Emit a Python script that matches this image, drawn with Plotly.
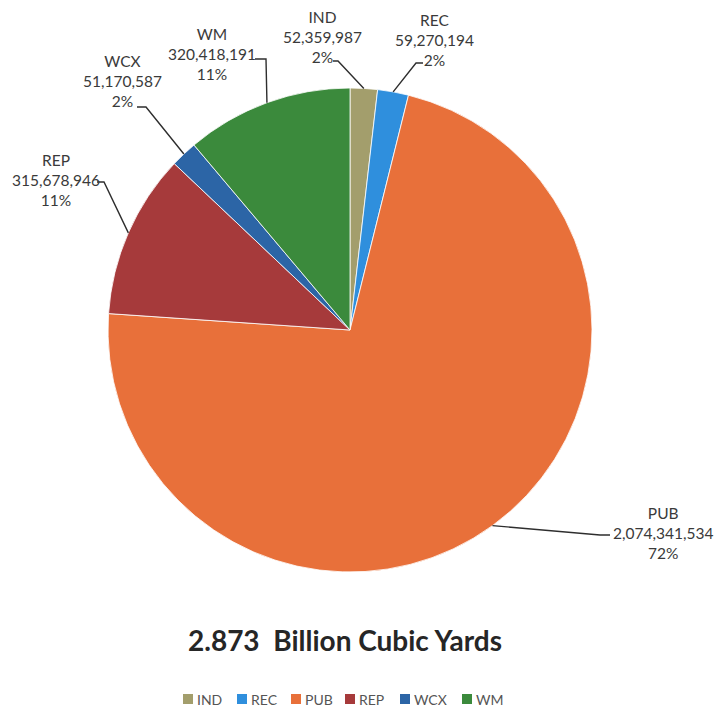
import math
import plotly.graph_objects as go

# Volumes by hauler (cubic yards)
categories = ["IND", "REC", "PUB", "REP", "WCX", "WM"]
volumes = [52359987, 59270194, 2074341534, 315678946, 51170587, 320418191]
colors = ["#a39e6c", "#2f8fdd", "#e8703a", "#a63a3b", "#2c65a6", "#3b8a3c"]
title_text = "2.873  Billion Cubic Yards"

W, H = 717, 715
CX, CY, R = 350, 330, 242  # pie centre and radius in px

# label centre (px) and leader elbow: (start point, elbow point)
label_pos = {
    "IND": (322, 37), "REC": (434, 40), "PUB": (663, 533),
    "REP": (56, 180), "WCX": (122, 81), "WM": (212, 54),
}
leader_pts = {
    "IND": [(333, 61), (338, 61)],
    "REC": [(423, 63), (416, 63)],
    "PUB": [(610, 535), (600, 535)],
    "REP": [(97, 182), (104, 182)],
    "WCX": [(137, 107), (146, 107)],
    "WM": [(255, 59), (266, 59)],
}
legend_x = [188, 242, 296, 350, 405, 467]
legend_y = 699


def px(x, y):
    return x / W, 1 - y / H


total = sum(volumes)

fig = go.Figure(go.Pie(
    labels=categories,
    values=volumes,
    sort=False,
    direction="clockwise",
    rotation=0,
    marker=dict(colors=colors, line=dict(color="#ffffff", width=0.8)),
    textinfo="none",
    hoverinfo="label+value+percent",
    showlegend=False,
    domain=dict(x=[(CX - R) / W, (CX + R) / W], y=[1 - (CY + R) / H, 1 - (CY - R) / H]),
))

annotations = []
shapes = []
label_font = dict(family="Lato, Open Sans, sans-serif", size=15.5, color="#3a3a3a")

cum = 0.0
for name, val in zip(categories, volumes):
    mid = (cum + val / 2) / total * 2 * math.pi
    cum += val
    ex = CX + R * math.sin(mid)
    ey = CY - R * math.cos(mid)
    pct = round(val / total * 100)
    lx, ly = label_pos[name]
    ax, ay = px(lx, ly)
    annotations.append(dict(
        x=ax, y=ay, xref="paper", yref="paper", showarrow=False,
        text=f"{name}<br>{val:,}<br>{pct}%", align="center",
        xanchor="center", yanchor="middle", font=label_font,
    ))
    pts = leader_pts[name] + [(ex, ey)]
    path = "M " + " L ".join(f"{px(x, y)[0]:.5f},{px(x, y)[1]:.5f}" for x, y in pts)
    shapes.append(dict(type="path", path=path, xref="paper", yref="paper",
                       line=dict(color="#2e2e2e", width=1.4)))

tx, ty = px(345, 640)
annotations.append(dict(
    x=tx, y=ty, xref="paper", yref="paper", showarrow=False,
    text=f"<b>{title_text}</b>", xanchor="center", yanchor="middle",
    font=dict(family="Lato, Open Sans, sans-serif", size=28, color="#262626"),
))

# legend row
for name, col, x0 in zip(categories, colors, legend_x):
    sx0, sy0 = px(x0 - 5, legend_y - 5)
    sx1, sy1 = px(x0 + 5, legend_y + 5)
    shapes.append(dict(type="rect", xref="paper", yref="paper",
                       x0=sx0, x1=sx1, y0=sy1, y1=sy0,
                       fillcolor=col, line=dict(width=0)))
    lx, ly = px(x0 + 7, legend_y)
    annotations.append(dict(
        x=lx, y=ly, xref="paper", yref="paper", showarrow=False,
        text=name, xanchor="left", yanchor="middle",
        font=dict(family="Lato, Open Sans, sans-serif", size=14, color="#555555"),
    ))

fig.update_layout(
    width=W, height=H,
    margin=dict(l=0, r=0, t=0, b=0),
    paper_bgcolor="#ffffff",
    plot_bgcolor="#ffffff",
    annotations=annotations,
    shapes=shapes,
)

fig.write_html("out.html")
